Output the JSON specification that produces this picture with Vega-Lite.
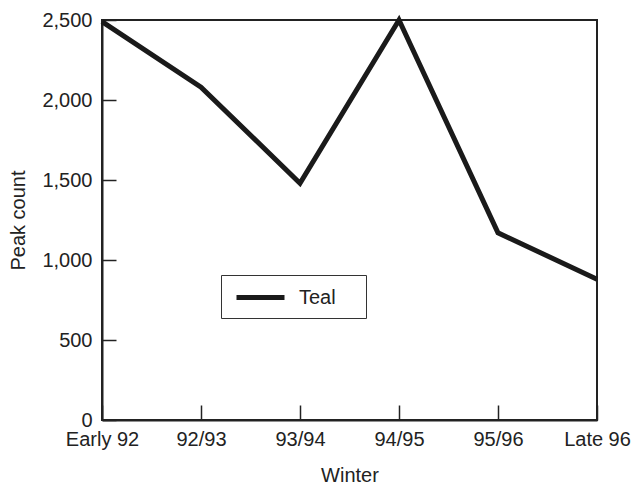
{
  "$schema": "https://vega.github.io/schema/vega-lite/v6.json",
  "width": 495,
  "height": 400,
  "autosize": "none",
  "padding": {"left": 102, "top": 20, "right": 37, "bottom": 68},
  "background": "white",
  "config": {
    "view": {"stroke": "#222", "strokeWidth": 2},
    "font": "Liberation Sans",
    "axis": {
      "grid": false,
      "domainColor": "#222",
      "domainWidth": 2,
      "tickColor": "#222",
      "tickWidth": 1.5,
      "labelFont": "Liberation Sans",
      "labelFontSize": 20,
      "labelColor": "#222",
      "titleFont": "Liberation Sans",
      "titleFontSize": 20,
      "titleFontWeight": "normal",
      "titleColor": "#222"
    }
  },
  "data": {
    "values": [
      {"winter": "Early 92", "count": 2490, "species": "Teal"},
      {"winter": "92/93", "count": 2080, "species": "Teal"},
      {"winter": "93/94", "count": 1480, "species": "Teal"},
      {"winter": "94/95", "count": 2500, "species": "Teal"},
      {"winter": "95/96", "count": 1170, "species": "Teal"},
      {"winter": "Late 96", "count": 880, "species": "Teal"}
    ]
  },
  "mark": {"type": "line", "strokeWidth": 5, "strokeJoin": "miter"},
  "encoding": {
    "x": {
      "field": "winter",
      "type": "ordinal",
      "sort": null,
      "scale": {"type": "point", "padding": 0},
      "axis": {
        "title": "Winter",
        "labelAngle": 0,
        "tickSize": -15,
        "labelPadding": 24,
        "titlePadding": 16,
        "domain": true
      }
    },
    "y": {
      "field": "count",
      "type": "quantitative",
      "scale": {"domain": [0, 2500], "nice": false},
      "axis": {
        "title": "Peak count",
        "values": [0, 500, 1000, 1500, 2000, 2500],
        "format": ",d",
        "tickSize": -14,
        "labelPadding": 24,
        "titlePadding": 13
      }
    },
    "color": {
      "field": "species",
      "type": "nominal",
      "scale": {"range": ["#1a1a1a"]},
      "legend": {
        "title": null,
        "orient": "none",
        "legendX": 119,
        "legendY": 255,
        "direction": "vertical",
        "symbolType": "M-2.4,0H2.4M8.5,0",
        "symbolStrokeWidth": 5,
        "symbolSize": 400,
        "symbolOffset": 17,
        "labelFontSize": 20,
        "labelFont": "Liberation Sans",
        "labelColor": "#222",
        "strokeColor": "#333",
        "padding": 10,
        "labelOffset": 26
      }
    }
  }
}
